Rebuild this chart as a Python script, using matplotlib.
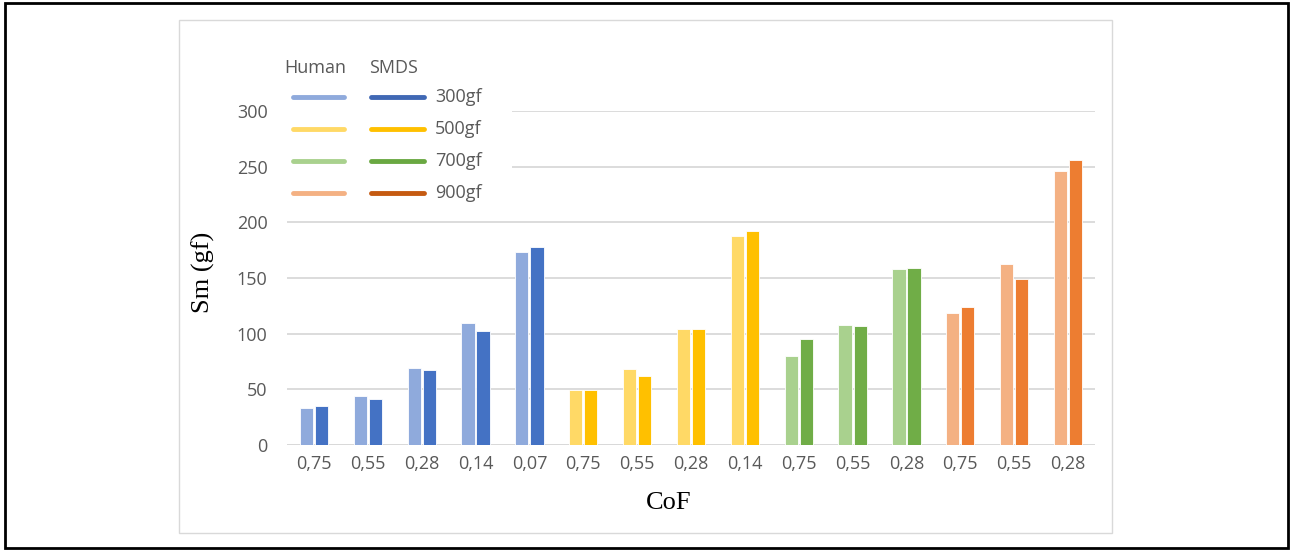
import matplotlib
matplotlib.use("Agg")
import matplotlib.pyplot as plt
import numpy as np
from matplotlib.patches import Rectangle
from matplotlib.lines import Line2D

# ---- data ----
cof_labels = ["0,75", "0,55", "0,28", "0,14", "0,07",
              "0,75", "0,55", "0,28", "0,14",
              "0,75", "0,55", "0,28",
              "0,75", "0,55", "0,28"]
load_group = ["300gf"] * 5 + ["500gf"] * 4 + ["700gf"] * 3 + ["900gf"] * 3
human = [33, 44, 69, 110, 173,
         49, 68, 104, 188,
         80, 108, 158,
         119, 163, 246]
smds = [35, 41, 67, 102, 178,
        49, 62, 104, 192,
        95, 107, 159,
        124, 149, 256]
loads = ["300gf", "500gf", "700gf", "900gf"]
yticks = [0, 50, 100, 150, 200, 250, 300]

human_colors = {"300gf": "#8FAADC", "500gf": "#FFD966", "700gf": "#A9D18E", "900gf": "#F4B183"}
smds_colors = {"300gf": "#4472C4", "500gf": "#FFC000", "700gf": "#70AD47", "900gf": "#ED7D31"}
smds_legend_colors = {"300gf": "#4068B4", "500gf": "#FFC000", "700gf": "#6AA842", "900gf": "#C55A11"}

W, H = 1293, 552
fig = plt.figure(figsize=(W / 100, H / 100), dpi=100)
fig.patch.set_facecolor("white")

def fx(px):
    return px / W

def fy(py):
    return 1 - py / H

# outer black border
fig.add_artist(Rectangle((fx(5), fy(548)), fx(1288) - fx(5), fy(3) - fy(548),
                         transform=fig.transFigure, fill=False, edgecolor="black", linewidth=2))
# chart area border
fig.add_artist(Rectangle((fx(179), fy(533)), fx(1112) - fx(179), fy(20) - fy(533),
                         transform=fig.transFigure, fill=False, edgecolor="#D9D9D9", linewidth=1))

ax = fig.add_axes([fx(287), fy(445), fx(1095) - fx(287), fy(111) - fy(445)])
x = np.arange(len(cof_labels))
w = 0.245
off = 0.14
hc = [human_colors[g] for g in load_group]
sc = [smds_colors[g] for g in load_group]
ax.bar(x - off, human, width=w, color=hc, edgecolor="white", linewidth=0.6, zorder=3)
ax.bar(x + off, smds, width=w, color=sc, edgecolor="white", linewidth=0.6, zorder=3)

ax.set_xlim(-0.5, len(cof_labels) - 0.5)
ax.set_ylim(0, 300)
ax.set_yticks(yticks)
ax.set_xticks(x)
ax.set_xticklabels(cof_labels)
for s in ["top", "right", "left", "bottom"]:
    ax.spines[s].set_visible(False)
ax.yaxis.grid(True, color="#D9D9D9", linewidth=1.3, zorder=0)
ax.set_axisbelow(True)
ax.axhline(0, color="#D9D9D9", linewidth=1.3, zorder=1)
ax.tick_params(axis="both", length=0, labelsize=13, labelcolor="#595959")
ax.tick_params(axis="y", pad=14)
ax.tick_params(axis="x", pad=7)
for lab in ax.get_xticklabels() + ax.get_yticklabels():
    lab.set_family("Open Sans")

fig.text(fx(203), fy(272), "Sm (gf)", rotation=90, ha="center", va="center",
         fontsize=19, family="Liberation Serif", color="black")
fig.text(fx(669), fy(503), "CoF", ha="center", va="center",
         fontsize=19, family="Liberation Serif", color="black")

# legend block (white background covers gridlines)
fig.add_artist(Rectangle((fx(282), fy(205)), fx(512) - fx(282), fy(50) - fy(205),
                         transform=fig.transFigure, facecolor="white", edgecolor="none", zorder=5))
fig.text(fx(284), fy(68), "Human", ha="left", va="center", fontsize=13,
         family="Open Sans", color="#595959", zorder=6)
fig.text(fx(369), fy(68), "SMDS", ha="left", va="center", fontsize=13,
         family="Open Sans", color="#595959", zorder=6)
for i, ld in enumerate(loads):
    yy = fy(97 + 32 * i)
    fig.add_artist(Line2D([fx(293), fx(344)], [yy, yy], transform=fig.transFigure,
                          color=human_colors[ld], linewidth=3.5, solid_capstyle="round", zorder=6))
    fig.add_artist(Line2D([fx(371), fx(424)], [yy, yy], transform=fig.transFigure,
                          color=smds_legend_colors[ld], linewidth=3.5, solid_capstyle="round", zorder=6))
    fig.text(fx(435), yy, ld, ha="left", va="center", fontsize=13,
             family="Open Sans", color="#595959", zorder=6)

fig.savefig("out.png", dpi=100)
